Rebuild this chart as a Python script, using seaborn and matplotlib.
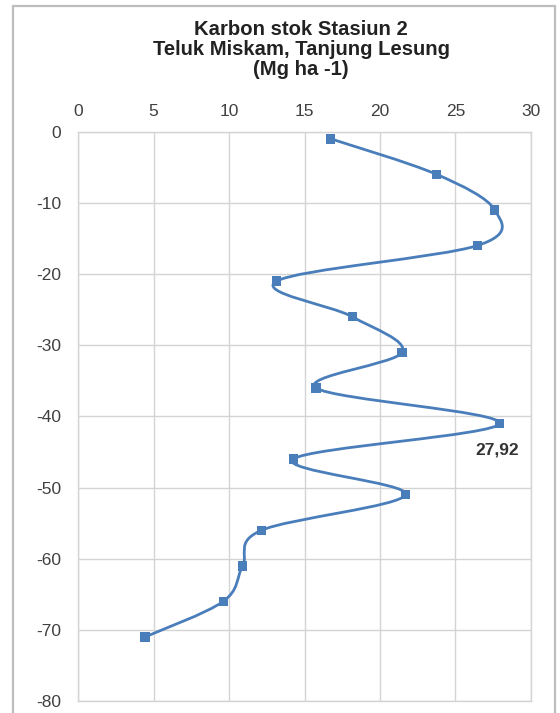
import numpy as np
import pandas as pd
import seaborn as sns
import matplotlib.pyplot as plt
from matplotlib.path import Path
from matplotlib.patches import PathPatch, Rectangle

# depth (cm, negative downwards) and carbon stock (Mg ha-1)
depth = [-1, -6, -11, -16, -21, -26, -31, -36, -41, -46, -51, -56, -61, -66, -71]
karbon = [16.74, 23.75, 27.6, 26.45, 13.15, 18.16, 21.47, 15.76, 27.92, 14.26,
          21.7, 12.16, 10.9, 9.62, 4.44]
x_ticks = [0, 5, 10, 15, 20, 25, 30]
y_ticks = [0, -10, -20, -30, -40, -50, -60, -70, -80]
title = "Karbon stok Stasiun 2\nTeluk Miskam, Tanjung Lesung\n(Mg ha -1)"
label_text = "27,92"

df = pd.DataFrame({"karbon": karbon, "depth": depth})

sns.set_style('white')
plt.rcParams['font.family'] = ['Liberation Sans', 'DejaVu Sans']
plt.rcParams['axes.unicode_minus'] = False

blue = '#4A7EBB'
grid_c = '#D4D4D4'

fig = plt.figure(figsize=(5.6, 7.13), dpi=100)
ax = fig.add_axes([0.1393, 0.0168, 0.8089, 0.7985])

# outer frame like the excel chart area
fig.patches.append(Rectangle((13 / 560, -0.05), (555 - 13) / 560, 1.05 - 6 / 713,
                             transform=fig.transFigure, fill=False,
                             edgecolor='#BDBDBD', linewidth=1.6))

# smoothed line (excel style bezier through the points)
pts = df[["karbon", "depth"]].to_numpy()
ext = np.vstack([pts[0], pts, pts[-1]])
verts = [tuple(pts[0])]
codes = [Path.MOVETO]
for i in range(len(pts) - 1):
    p0, p1, p2, p3 = ext[i], ext[i + 1], ext[i + 2], ext[i + 3]
    c1 = p1 + (p2 - p0) / 6.0
    c2 = p2 - (p3 - p1) / 6.0
    verts += [tuple(c1), tuple(c2), tuple(p2)]
    codes += [Path.CURVE4] * 3
ax.add_patch(PathPatch(Path(verts, codes), fill=False, edgecolor=blue,
                       linewidth=2.0, zorder=3))

sns.scatterplot(data=df, x="karbon", y="depth", marker='s', s=46,
                color=blue, edgecolor='none', ax=ax, zorder=4)

ax.annotate(label_text, xy=(karbon[8], depth[8]), xytext=(-2, -19),
            textcoords='offset points', ha='center', va='center',
            fontsize=12.5, fontweight='bold', color='#333333')

ax.set_xlim(0, 30)
ax.set_ylim(-80, 0)
ax.set_xticks(x_ticks)
ax.set_yticks(y_ticks)
ax.xaxis.tick_top()
ax.tick_params(axis='both', length=0, labelsize=12.5, labelcolor='#404040')
ax.tick_params(axis='x', pad=9)
ax.tick_params(axis='y', pad=12)
ax.grid(True, color=grid_c, linewidth=1)
for s in ax.spines.values():
    s.set_color(grid_c)
    s.set_linewidth(1)
ax.set_xlabel('')
ax.set_ylabel('')

fig.text(0.538, 1 - 49.5 / 713, title, ha='center', va='center',
         fontsize=14.6, fontweight='bold', color='#222222', linespacing=1.08)

fig.savefig('out.png', dpi=100)
